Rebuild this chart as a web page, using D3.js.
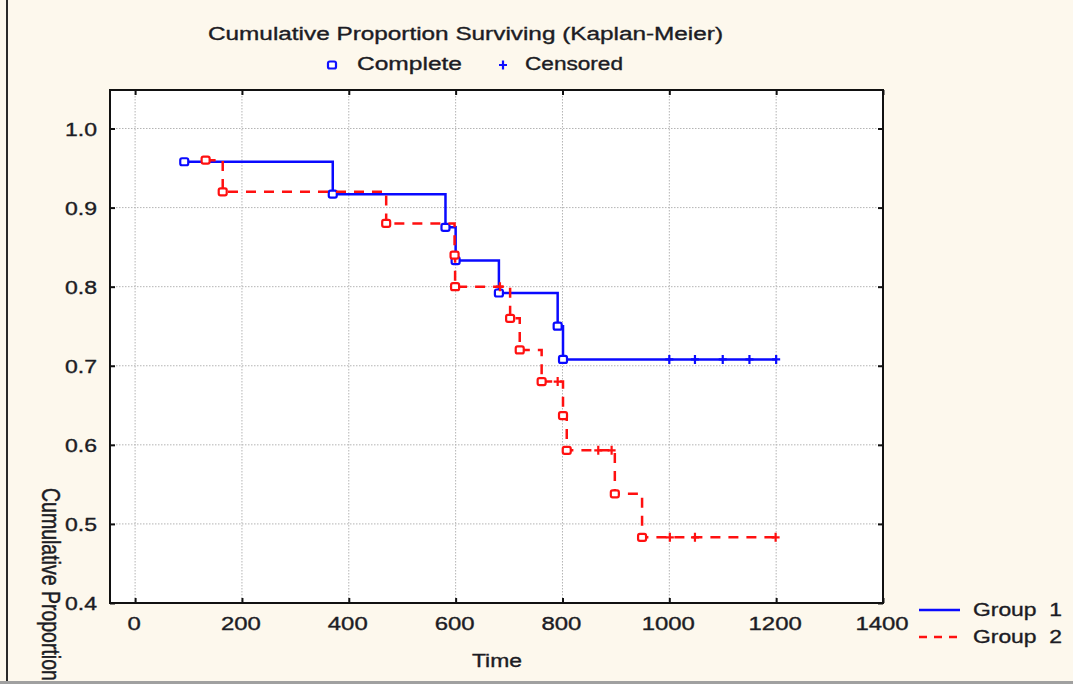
<!DOCTYPE html>
<html>
<head>
<meta charset="utf-8">
<script src="https://cdn.jsdelivr.net/npm/d3@7"></script>
<style>
  body { margin: 0; background: #fdf8ed; }
  svg { display: block; }
  text { font-family: "Liberation Sans", Arial, sans-serif; fill: #1c1c24; stroke: #1c1c24; stroke-width: 0.35px; }
</style>
</head>
<body>
<div id="viz"></div>
<script>
// Kaplan-Meier step curves

const xTicks = [0, 200, 400, 600, 800, 1000, 1200, 1400];
const yTicks = [0.4, 0.5, 0.6, 0.7, 0.8, 0.9, 1.0];
const groupNames = ["Group  1", "Group  2"];

// Group 1: complete (event) times and survival after each event
const g1Times = [92, 370, 581, 600, 681, 791, 801];
const g1Surv = [0.958, 0.917, 0.875, 0.833, 0.792, 0.750, 0.708];
const g1Censored = [1000, 1048, 1100, 1150, 1200];
const g1End = 1200;

// Group 2
const g2Times = [132, 164, 470, 598, 599, 702, 720, 761, 801, 808, 898, 949];
const g2Surv = [0.96, 0.92, 0.88, 0.84, 0.80, 0.76, 0.72, 0.68, 0.637, 0.593, 0.538, 0.483];
const g2Censored = [683, 791, 867, 892, 1001, 1048, 1199];
const g2End = 1200;

const width = 1073;
const height = 684;
const box = { left: 110, right: 883, top: 90, bottom: 603 };

const svg = d3.select("#viz")
    .append("svg")
    .attr("width", width)
    .attr("height", height);

const x = d3.scaleLinear().domain([-47, 1400]).range([box.left, box.right]);
const y = d3.scaleLinear().domain([0.4, 1.0487]).range([box.bottom, box.top]);

// window frame bits
svg.append("line").attr("x1", 7).attr("x2", 7).attr("y1", 0).attr("y2", height)
    .attr("stroke", "#2a2a2a").attr("stroke-width", 2);
svg.append("line").attr("x1", 0).attr("x2", width).attr("y1", 682.5).attr("y2", 682.5)
    .attr("stroke", "#a0a0a0").attr("stroke-width", 3);

// plot area
svg.append("rect")
    .attr("x", box.left).attr("y", box.top)
    .attr("width", box.right - box.left).attr("height", box.bottom - box.top)
    .attr("fill", "#fff");

// dotted grid
const grid = svg.append("g")
    .attr("stroke", "#b4b4b4")
    .attr("stroke-width", 1)
    .attr("stroke-dasharray", "1.5,1.5");

grid.selectAll("line.v")
    .data(xTicks.filter(d => d < 1400))
    .enter().append("line")
    .attr("class", "v")
    .attr("x1", d => x(d)).attr("x2", d => x(d))
    .attr("y1", box.top).attr("y2", box.bottom);

grid.selectAll("line.h")
    .data(yTicks.filter(d => d > 0.4))
    .enter().append("line")
    .attr("class", "h")
    .attr("x1", box.left).attr("x2", box.right)
    .attr("y1", d => y(d)).attr("y2", d => y(d));

// axes with inward ticks on all four sides
const tickLen = 5;
const axisG = svg.append("g").attr("fill", "none").attr("stroke", "#111");

function innerAxis(axis, tx, ty) {
    const g = axisG.append("g")
        .attr("transform", `translate(${tx},${ty})`)
        .call(axis.tickSizeInner(-tickLen).tickSizeOuter(0).tickFormat(""));
    g.select(".domain").remove();
    g.selectAll(".tick line").attr("stroke", "#111").attr("stroke-width", 2);
}

innerAxis(d3.axisBottom(x).tickValues(xTicks), 0, box.bottom);
innerAxis(d3.axisTop(x).tickValues(xTicks), 0, box.top);
innerAxis(d3.axisLeft(y).tickValues(yTicks), box.left, 0);
innerAxis(d3.axisRight(y).tickValues(yTicks), box.right, 0);

svg.append("rect")
    .attr("x", box.left).attr("y", box.top)
    .attr("width", box.right - box.left).attr("height", box.bottom - box.top)
    .attr("fill", "none").attr("stroke", "#111").attr("stroke-width", 2);

// tick labels
svg.append("g").selectAll("text")
    .data(xTicks)
    .enter().append("text")
    .attr("x", d => x(d) - 1)
    .attr("y", 630)
    .attr("text-anchor", "middle")
    .attr("font-size", 18)
    .attr("textLength", d => String(d).length * 13.3)
    .attr("lengthAdjust", "spacingAndGlyphs")
    .text(d => d);

svg.append("g").selectAll("text")
    .data(yTicks)
    .enter().append("text")
    .attr("x", 97)
    .attr("y", d => y(d) + 7)
    .attr("text-anchor", "end")
    .attr("font-size", 18)
    .attr("textLength", 32)
    .attr("lengthAdjust", "spacingAndGlyphs")
    .text(d => d.toFixed(1));

// axis titles
svg.append("text")
    .attr("x", 472).attr("y", 667)
    .attr("font-size", 18)
    .attr("textLength", 50).attr("lengthAdjust", "spacingAndGlyphs")
    .text("Time");

svg.append("text")
    .attr("transform", "translate(42,488) scale(1.3,1) rotate(90)")
    .attr("font-size", 19.5)
    .text("Cumulative Proportion");

// title and marker legend
svg.append("text")
    .attr("x", 208).attr("y", 40)
    .attr("font-size", 18)
    .attr("textLength", 515).attr("lengthAdjust", "spacingAndGlyphs")
    .text("Cumulative Proportion Surviving (Kaplan-Meier)");

svg.append("text")
    .attr("x", 357).attr("y", 70)
    .attr("font-size", 18)
    .attr("textLength", 105).attr("lengthAdjust", "spacingAndGlyphs")
    .text("Complete");

svg.append("text")
    .attr("x", 525).attr("y", 70)
    .attr("font-size", 18)
    .attr("textLength", 98).attr("lengthAdjust", "spacingAndGlyphs")
    .text("Censored");

function completeMark(g, cx, cy, color) {
    g.append("rect")
        .attr("x", cx - 4).attr("y", cy - 3.5)
        .attr("width", 8).attr("height", 7)
        .attr("rx", 1.8)
        .attr("fill", "#fff")
        .attr("stroke", color)
        .attr("stroke-width", 2.2);
}

function censorMark(g, cx, cy, color) {
    g.append("path")
        .attr("d", `M${cx - 4},${cy}H${cx + 4}M${cx},${cy - 4.5}V${cy + 4.5}`)
        .attr("fill", "none")
        .attr("stroke", color)
        .attr("stroke-width", 2.2);
}

completeMark(svg, 332, 65, "#1010ff");
censorMark(svg, 503, 65, "#1010ff");

// survival curves
const line = d3.line()
    .x(d => x(d[0]))
    .y(d => y(d[1]))
    .curve(d3.curveStepAfter);

const groups = [
    { times: g1Times, surv: g1Surv, cens: g1Censored, end: g1End, color: "#0a0aff", dash: null },
    { times: g2Times, surv: g2Surv, cens: g2Censored, end: g2End, color: "#ff1010", dash: "10,8" }
];

// survival value at time t
function survAt(gr, t) {
    let s = 1;
    gr.times.forEach((tt, i) => { if (tt <= t) s = gr.surv[i]; });
    return s;
}

groups.forEach(gr => {
    const pts = gr.times.map((t, i) => [t, gr.surv[i]]);
    pts.push([gr.end, gr.surv[gr.surv.length - 1]]);

    const g = svg.append("g");
    g.append("path")
        .datum(pts)
        .attr("d", line)
        .attr("fill", "none")
        .attr("stroke", gr.color)
        .attr("stroke-width", 2.5)
        .attr("stroke-dasharray", gr.dash);

    gr.cens.forEach(t => censorMark(g, x(t), y(survAt(gr, t)), gr.color));
    gr.times.forEach((t, i) => completeMark(g, x(t), y(gr.surv[i]), gr.color));
});

// group legend, bottom right
const legend = svg.append("g");
groupNames.forEach((name, i) => {
    const ly = 610 + i * 27;
    legend.append("line")
        .attr("x1", 919).attr("x2", 960)
        .attr("y1", ly).attr("y2", ly)
        .attr("stroke", groups[i].color)
        .attr("stroke-width", 2.5)
        .attr("stroke-dasharray", i === 1 ? "8,7" : null);
    legend.append("text")
        .attr("x", 973).attr("y", ly + 6)
        .attr("font-size", 18)
        .attr("textLength", 89).attr("lengthAdjust", "spacingAndGlyphs")
        .attr("xml:space", "preserve")
        .text(name);
});
</script>
</body>
</html>
